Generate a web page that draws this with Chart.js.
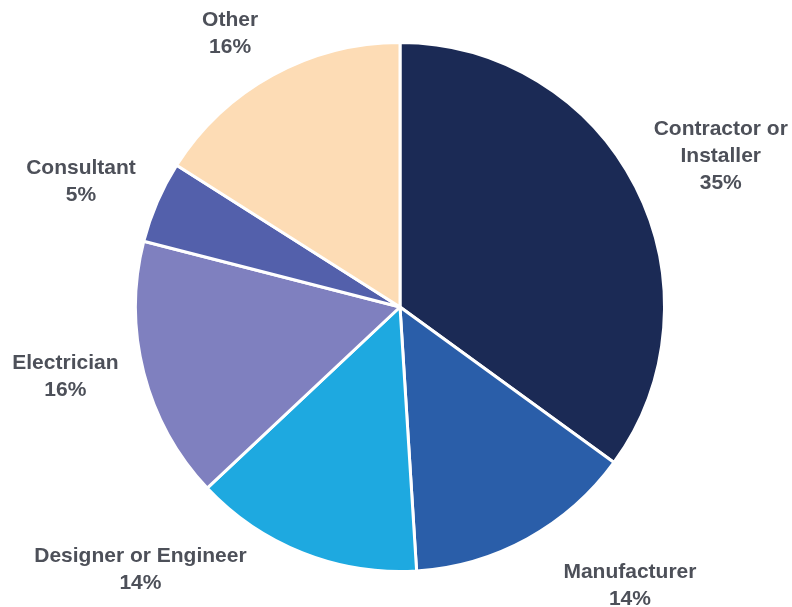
<!DOCTYPE html>
<html>
<head>
<meta charset="utf-8">
<script src="https://cdn.jsdelivr.net/npm/chart.js@4.4.1/dist/chart.umd.min.js"></script>
<style>
    html, body { margin: 0; padding: 0; background: #ffffff; }
    #wrap { width: 792px; height: 607px; position: relative; }
</style>
</head>
<body>
<div id="wrap"><canvas id="roleChart"></canvas></div>
<script>
// Respondent role breakdown (percent)
const roles = [
    ['Contractor or', 'Installer'],
    ['Manufacturer'],
    ['Designer or Engineer'],
    ['Electrician'],
    ['Consultant'],
    ['Other']
];
const shares = [35, 14, 14, 16, 5, 16];
const sliceColors = ['#1b2a55', '#2a5ea9', '#1ea9e0', '#7f80bf', '#5360ab', '#fddcb5'];

// small per-label shifts so the outside labels sit clear of each other
const labelNudge = [[12, 7], [63, -25], [-132, -59], [1, -16], [-1, 12], [-3, 30]];

const outsideLabels = {
    id: 'outsideLabels',
    afterDatasetsDraw(chart) {
        const ctx = chart.ctx;
        const meta = chart.getDatasetMeta(0);
        ctx.save();
        ctx.font = 'bold 21px "Liberation Sans", Arial, sans-serif';
        ctx.fillStyle = '#4d5059';
        ctx.textAlign = 'center';
        ctx.textBaseline = 'middle';
        meta.data.forEach((arc, i) => {
            const mid = (arc.startAngle + arc.endAngle) / 2;
            const r = arc.outerRadius + 82;
            const cx = arc.x + Math.cos(mid) * r + labelNudge[i][0];
            const cy = arc.y + Math.sin(mid) * r + labelNudge[i][1];
            const lines = roles[i].concat([shares[i] + '%']);
            const lh = 27;
            const top = cy - (lines.length - 1) * lh / 2;
            lines.forEach((t, j) => ctx.fillText(t, cx, top + j * lh));
        });
        ctx.restore();
    }
};

new Chart(document.getElementById('roleChart'), {
    type: 'pie',
    data: {
        labels: roles,
        datasets: [{
            data: shares,
            backgroundColor: sliceColors,
            borderColor: '#ffffff',
            borderWidth: 3
        }]
    },
    options: {
        responsive: true,
        maintainAspectRatio: false,
        animation: false,
        layout: { padding: { left: 134, right: 126, top: 41, bottom: 34 } },
        plugins: {
            legend: { display: false },
            tooltip: { enabled: false }
        }
    },
    plugins: [outsideLabels]
});
</script>
</body>
</html>
